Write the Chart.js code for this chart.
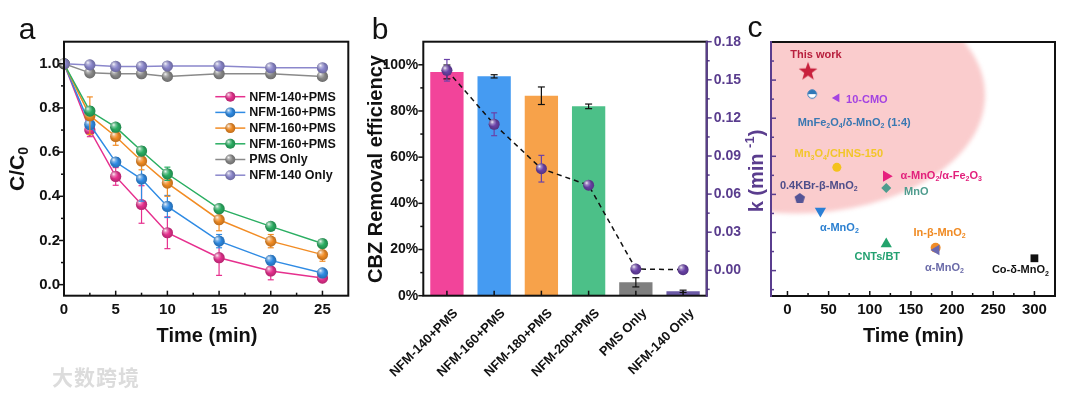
<!DOCTYPE html>
<html><head><meta charset="utf-8">
<script src="https://cdn.jsdelivr.net/npm/chart.js@4.4.1/dist/chart.umd.min.js"></script>
<style>
html,body{margin:0;padding:0;background:#fff;}
body{width:1080px;height:397px;position:relative;overflow:hidden;}
canvas{position:absolute;top:0;}
#wm{position:absolute;left:52px;top:361px;font:bold 21px "Noto Sans CJK SC";color:#dcdcdc;letter-spacing:1px}
</style></head><body>
<canvas id="ca" width="360" height="397" style="left:0"></canvas>
<canvas id="cb" width="410" height="397" style="left:360px"></canvas>
<canvas id="cc" width="340" height="397" style="left:740px"></canvas>
<div id="wm">大数跨境</div>
<script>
const FAM = '"Liberation Sans", Arial, Helvetica, sans-serif';
Chart.defaults.font.family = FAM;

// ---------------- Panel a data ----------------
const TIME_A = [0, 2.5, 5, 7.5, 10, 15, 20, 25];
const A_X_TICKS = [0, 5, 10, 15, 20, 25];
const A_X_MINOR = [2.5, 7.5, 12.5, 17.5, 22.5];
const A_Y_TICKS = [0, 0.2, 0.4, 0.6, 0.8, 1.0];
const A_Y_MINOR = [0.1, 0.3, 0.5, 0.7, 0.9];
const A_LABELS = ['NFM-140+PMS', 'NFM-160+PMS', 'NFM-160+PMS', 'NFM-160+PMS', 'PMS Only', 'NFM-140 Only'];
const NFM140_PMS  = [1.0, 0.700, 0.490, 0.363, 0.235, 0.122, 0.062, 0.030];
const NFM160_PMS  = [1.0, 0.725, 0.555, 0.478, 0.354, 0.197, 0.110, 0.053];
const NFM180_PMS  = [1.0, 0.765, 0.671, 0.560, 0.460, 0.294, 0.197, 0.136];
const NFM200_PMS  = [1.0, 0.786, 0.713, 0.605, 0.502, 0.344, 0.264, 0.186];
const PMS_ONLY    = [1.0, 0.959, 0.955, 0.955, 0.943, 0.955, 0.955, 0.943];
const NFM140_ONLY = [1.0, 0.995, 0.988, 0.988, 0.990, 0.990, 0.982, 0.982];
const ERR_140_PMS  = [0, 0.030, 0.040, 0.085, 0.072, 0.080, 0.040, 0.010];
const ERR_160_PMS  = [0, 0.020, 0.020, 0.100, 0.050, 0.030, 0.020, 0.010];
const ERR_180_PMS  = [0, 0.085, 0.040, 0.040, 0.060, 0.050, 0.030, 0.030];
const ERR_200_PMS  = [0, 0.020, 0.015, 0.020, 0.030, 0.015, 0.015, 0.015];
const ERR_PMS_ONLY = [0, 0.006, 0.006, 0.006, 0.006, 0.006, 0.006, 0.006];
const ERR_140_ONLY = [0, 0.005, 0.005, 0.005, 0.005, 0.005, 0.005, 0.005];
const A_SERIES = [NFM140_PMS, NFM160_PMS, NFM180_PMS, NFM200_PMS, PMS_ONLY, NFM140_ONLY];
const A_ERRORS = [ERR_140_PMS, ERR_160_PMS, ERR_180_PMS, ERR_200_PMS, ERR_PMS_ONLY, ERR_140_ONLY];
const A_COLORS = ['#e6308e', '#2f8be4', '#f28c24', '#2aae62', '#8a8a8a', '#8b87cc'];

// ---------------- Panel b data ----------------
const CAT_B = ['NFM-140+PMS', 'NFM-160+PMS', 'NFM-180+PMS', 'NFM-200+PMS', 'PMS Only', 'NFM-140 Only'];
const REMOVAL = [96.9, 95.0, 86.6, 82.0, 5.8, 1.9];
const REMOVAL_ERR = [3.0, 0.7, 3.8, 1.0, 2.0, 0.5];
const K_RATE = [0.1575, 0.115, 0.080, 0.067, 0.001, 0.0005];
const K_ERR = [0.0085, 0.009, 0.0105, 0.002, 0, 0];
const B_Y_TICKS = [0, 20, 40, 60, 80, 100];
const B_Y_MINOR = [10, 30, 50, 70, 90];
const K_TICKS = [0, 0.03, 0.06, 0.09, 0.12, 0.15, 0.18];
const K_MINOR = [-0.015, 0.015, 0.045, 0.075, 0.105, 0.135, 0.165];
const B_COLORS = ['#f2449a', '#459bf2', '#f7a24a', '#4cc088', '#7f7f7f', '#6b5aa6'];
const PURPLE = '#5a3d8e';

// ---------------- Panel c data ----------------
const C_LABELS = ['This work', 'MnFe_2O_4/δ-MnO_2 (1:4)', '10-CMO', 'Mn_3O_4/CHNS-150', 'α-MnO_2/α-Fe_2O_3', 'MnO',
                  '0.4KBr-β-MnO_2', 'α-MnO_2', 'CNTs/BT', 'In-β-MnO_2', 'α-MnO_2', 'Co-δ-MnO_2'];
const C_TIME = [25, 30, 60, 60, 120, 120, 15, 40, 120, 180, 181, 300];
const C_K    = [0.1575, 0.139, 0.136, 0.0813, 0.0743, 0.065, 0.0572, 0.047, 0.021, 0.018, 0.0162, 0.0097];
const C_X_TICKS = [0, 50, 100, 150, 200, 250, 300];
const C_X_MINOR = [25, 75, 125, 175, 225, 275];
const HIGHLIGHT_ZONE = {x: 9, y: 0.138, rx: 231, ry: 0.093};

// styles (panel c)
const C_COLORS = ['#c8203c', '#2f78b8', '#a443e2', '#f4c21c', '#e6207e', '#4e9c8e', '#545496', '#2a80d6', '#22a36c', '#f08c28', '#6a68b0', '#111111'];
const C_TEXT_COLORS = ['#b8203e', '#3a78b2', '#a443e2', '#f2c62a', '#e2207c', '#4e9c8e', '#4e4e8a', '#2a7fd0', '#22a070', '#f08a22', '#6a6aa8', '#111111'];
const C_LABEL_DX = [8, 42, 30, 2, 55, 30, 19, 19, -9, 4, 8, -14];
const C_LABEL_DY = [-16, 29, 2, -13, 0, 4, -12, 17, 13, -15, 18, 12];

function mkCanvas(w, h, draw) { const c = document.createElement('canvas'); c.width = w; c.height = h; draw(c.getContext('2d'), w, h); return c; }
const STAR = mkCanvas(22, 22, (g) => { g.fillStyle = '#c8203c'; g.beginPath();
  for (let k = 0; k < 10; k++) { const r = k % 2 ? 4 : 9.8; const a = -Math.PI / 2 + k * Math.PI / 5; g.lineTo(11 + r * Math.cos(a), 12 + r * Math.sin(a)); }
  g.closePath(); g.fill(); });
const HALF = mkCanvas(12, 12, (g) => { g.fillStyle = '#fff'; g.beginPath(); g.arc(6, 6, 4.3, 0, Math.PI * 2); g.fill();
  g.fillStyle = '#2f78b8'; g.beginPath(); g.arc(6, 6, 4.3, Math.PI, 0); g.closePath(); g.fill();
  g.strokeStyle = '#2f78b8'; g.lineWidth = 1; g.beginPath(); g.arc(6, 6, 4.3, 0, Math.PI * 2); g.stroke(); });
const PENT = mkCanvas(14, 14, (g) => { g.fillStyle = '#545496'; g.beginPath();
  for (let k = 0; k < 5; k++) { const a = -Math.PI / 2 + k * 2 * Math.PI / 5; g.lineTo(7 + 5.5 * Math.cos(a), 7.5 + 5.5 * Math.sin(a)); }
  g.closePath(); g.fill(); });
const C_STYLES = [STAR, HALF, 'triangle', 'circle', 'triangle', 'rectRot', PENT, 'triangle', 'triangle', 'circle', 'triangle', 'rect'];
const C_ROT    = [0, 0, -90, 0, 90, 0, 0, 180, 0, 0, -90, 0];
const C_RADIUS = [9, 5, 5, 4.5, 6.5, 5, 6, 6.5, 6.5, 5, 6, 5.5];

// ---------------- helpers ----------------
function richDraw(ctx, text, x, y, size, color, align, bold) {
  const runs = []; let cur = ''; let i = 0;
  while (i < text.length) {
    const ch = text[i];
    if (ch === '_' || ch === '^') {
      if (cur) { runs.push({t: cur, m: 0}); cur = ''; }
      let g;
      if (text[i + 1] === '{') { const j = text.indexOf('}', i + 2); g = text.slice(i + 2, j); i = j + 1; }
      else { g = text[i + 1]; i += 2; }
      runs.push({t: g, m: ch === '_' ? 1 : 2}); continue;
    }
    cur += ch; i++;
  }
  if (cur) runs.push({t: cur, m: 0});
  const fontFor = m => `${bold ? 'bold ' : ''}${m ? Math.round(size * 0.66) : size}px ${FAM}`;
  let total = 0;
  for (const r of runs) { ctx.font = fontFor(r.m); r.w = ctx.measureText(r.t).width; total += r.w; }
  let sx = align === 'center' ? x - total / 2 : align === 'right' ? x - total : x;
  ctx.save(); ctx.fillStyle = color; ctx.textBaseline = 'middle'; ctx.textAlign = 'left';
  for (const r of runs) { ctx.font = fontFor(r.m); const dy = r.m === 1 ? size * 0.3 : r.m === 2 ? -size * 0.35 : 0; ctx.fillText(r.t, sx, y + dy); sx += r.w; }
  ctx.restore();
}
function seg(ctx, x1, y1, x2, y2) { ctx.beginPath(); ctx.moveTo(x1, y1); ctx.lineTo(x2, y2); ctx.stroke(); }
function gloss(ctx, x, y, r) {
  ctx.save();
  let g = ctx.createRadialGradient(x, y, r * 0.3, x, y, r);
  g.addColorStop(0, 'rgba(0,0,0,0)'); g.addColorStop(1, 'rgba(0,0,0,0.22)');
  ctx.fillStyle = g; ctx.beginPath(); ctx.arc(x, y, r, 0, Math.PI * 2); ctx.fill();
  g = ctx.createRadialGradient(x - r * 0.35, y - r * 0.4, 0, x - r * 0.35, y - r * 0.4, r * 0.8);
  g.addColorStop(0, 'rgba(255,255,255,0.9)'); g.addColorStop(0.45, 'rgba(255,255,255,0.35)'); g.addColorStop(1, 'rgba(255,255,255,0)');
  ctx.fillStyle = g; ctx.beginPath(); ctx.arc(x, y, r, 0, Math.PI * 2); ctx.fill();
  ctx.restore();
}
function drawErr(chart, i) {
  const ds = chart.data.datasets[i]; const meta = chart.getDatasetMeta(i);
  const ys = chart.scales[meta.yAxisID]; const ctx = chart.ctx;
  ctx.save(); ctx.strokeStyle = ds.errorColor || ds.borderColor; ctx.lineWidth = 1.2;
  meta.data.forEach((el, j) => {
    const e = ds.errors[j]; if (!e) return;
    const d = ds.data[j]; const v = (typeof d === 'object') ? d.y : d;
    const x = el.x, yt = ys.getPixelForValue(v + e), yb = ys.getPixelForValue(v - e), cw = ds.capWidth || 3;
    seg(ctx, x, yt, x, yb); seg(ctx, x - cw, yt, x + cw, yt); seg(ctx, x - cw, yb, x + cw, yb);
  });
  ctx.restore();
}
const deco = {
  id: 'deco',
  beforeDatasetsDraw(chart, args, o) {
    if (!o.zone) return;
    const ctx = chart.ctx, ca = chart.chartArea, xs = chart.scales.x, ys = chart.scales.y, z = o.zone;
    const cx = xs.getPixelForValue(z.x), cy = ys.getPixelForValue(z.y);
    const rx = Math.abs(xs.getPixelForValue(z.x + z.rx) - cx), ry = Math.abs(ys.getPixelForValue(z.y + z.ry) - cy);
    ctx.save(); ctx.beginPath(); ctx.rect(ca.left, ca.top, ca.right - ca.left, ca.bottom - ca.top); ctx.clip();
    ctx.filter = 'blur(2px)'; ctx.fillStyle = o.zoneColor; ctx.beginPath(); ctx.ellipse(cx, cy, rx, ry, 0, 0, Math.PI * 2); ctx.fill();
    ctx.restore();
  },
  beforeDatasetDraw(chart, args) { const ds = chart.data.datasets[args.index]; if (ds.errors && !ds.errorOver) drawErr(chart, args.index); },
  afterDatasetDraw(chart, args) {
    const ds = chart.data.datasets[args.index];
    if (ds.errors && ds.errorOver) drawErr(chart, args.index);
    if (ds.gloss) { const meta = chart.getDatasetMeta(args.index); meta.data.forEach(el => gloss(chart.ctx, el.x, el.y, el.options.radius)); }
  },
  afterDraw(chart, args, o) {
    const ctx = chart.ctx, ca = chart.chartArea;
    ctx.save();
    (o.ticks || []).forEach(t => {
      const s = chart.scales[t.scale]; ctx.strokeStyle = t.color || '#111'; ctx.lineWidth = 1.5;
      const draw = (v, len) => { const p = s.getPixelForValue(v);
        if (t.edge === 'bottom') seg(ctx, p, ca.bottom, p, ca.bottom - len);
        else if (t.edge === 'left') seg(ctx, ca.left, p, ca.left + len * t.dir, p);
        else if (t.edge === 'right') seg(ctx, ca.right, p, ca.right + len, p); };
      t.major.forEach(v => draw(v, 5)); (t.minor || []).forEach(v => draw(v, 3));
    });
    ctx.strokeStyle = '#111'; ctx.lineWidth = 2;
    ctx.strokeRect(ca.left, ca.top, ca.right - ca.left, ca.bottom - ca.top);
    (o.colorEdges || []).forEach(e => { ctx.strokeStyle = e.color; ctx.lineWidth = 2; const x = e.edge === 'left' ? ca.left : ca.right; seg(ctx, x, ca.top - 1, x, ca.bottom + 1); });
    (o.texts || []).forEach(t => { ctx.save(); ctx.translate(t.x, t.y); if (t.rot) ctx.rotate(t.rot * Math.PI / 180);
      richDraw(ctx, t.text, 0, 0, t.size, t.color || '#111', 'center', t.bold !== false); ctx.restore(); });
    if (o.legend) {
      const L = o.legend;
      chart.data.datasets.forEach((ds, i) => {
        const y = ca.top + L.top + i * L.gap;
        ctx.strokeStyle = ds.borderColor; ctx.lineWidth = 1.5; seg(ctx, ca.right - L.lineL, y, ca.right - L.lineR, y);
        const mx = ca.right - (L.lineL + L.lineR) / 2;
        ctx.fillStyle = ds.borderColor; ctx.beginPath(); ctx.arc(mx, y, 5, 0, Math.PI * 2); ctx.fill(); gloss(ctx, mx, y, 5);
        richDraw(ctx, ds.label, ca.right - L.text, y + 0.5, 12.5, '#111', 'left', true);
      });
    }
    if (o.pointLabels) {
      const meta = chart.getDatasetMeta(0), P = o.pointLabels;
      P.texts.forEach((txt, i) => { const el = meta.data[i]; richDraw(ctx, txt, el.x + P.dx[i], el.y + P.dy[i], 11, P.colors[i], 'center', true); });
    }
    ctx.restore();
  }
};
const fixTicks = arr => s => { s.ticks = arr.map(v => ({value: v})); };
const tickFont = (size) => ({family: FAM, size: size, weight: 'bold'});

// ---------------- Chart a ----------------
new Chart(document.getElementById('ca'), {
  type: 'line',
  data: { datasets: A_SERIES.map((s, i) => ({
    label: A_LABELS[i], data: TIME_A.map((t, j) => ({x: t, y: s[j]})),
    borderColor: A_COLORS[i], backgroundColor: A_COLORS[i], pointBackgroundColor: A_COLORS[i],
    pointBorderWidth: 0, pointRadius: 5.6, borderWidth: 1.5, order: -i, gloss: true, errors: A_ERRORS[i]
  })) },
  options: {
    responsive: false, animation: false, events: [],
    layout: {padding: {left: 0, top: 41.7, right: 11.7, bottom: 0}},
    plugins: {legend: {display: false}, tooltip: {enabled: false},
      deco: {
        ticks: [{scale: 'x', edge: 'bottom', major: A_X_TICKS, minor: A_X_MINOR},
                {scale: 'y', edge: 'left', dir: -1, major: A_Y_TICKS, minor: A_Y_MINOR}],
        texts: [{text: 'Time (min)', x: 207, y: 336, size: 20},
                {text: 'C/C_0', x: 18, y: 169, rot: -90, size: 21},
                {text: 'a', x: 27, y: 31, size: 30, bold: false}],
        legend: {top: 55, gap: 15.7, lineL: 133, lineR: 103, text: 99}
      }},
    scales: {
      x: {type: 'linear', min: 0, max: 27.5, afterBuildTicks: fixTicks(A_X_TICKS), afterFit: s => { s.height = 101.3; },
          grid: {display: false, drawTicks: false}, border: {display: false},
          ticks: {font: tickFont(15), color: '#111', padding: 5, maxRotation: 0}},
      y: {min: -0.05, max: 1.1, afterBuildTicks: fixTicks(A_Y_TICKS), afterFit: s => { s.width = 64; },
          grid: {display: false, drawTicks: false}, border: {display: false},
          ticks: {font: tickFont(15), color: '#111', padding: 4, callback: v => v.toFixed(1)}}
    }
  },
  plugins: [deco]
});

// ---------------- Chart b ----------------
new Chart(document.getElementById('cb'), {
  type: 'bar',
  data: { labels: CAT_B, datasets: [
    {type: 'line', label: 'k', data: K_RATE, yAxisID: 'y1', order: 0, borderColor: '#111', borderWidth: 1.5, borderDash: [5, 4],
     pointRadius: 5.5, pointBackgroundColor: '#6a42a8', pointBorderWidth: 0, gloss: true, errors: K_ERR, errorColor: '#6a42a8'},
    {type: 'bar', label: 'Removal', data: REMOVAL, yAxisID: 'y', order: 1, backgroundColor: B_COLORS,
     barPercentage: 0.705, categoryPercentage: 1, errors: REMOVAL_ERR, errorColor: '#111', errorOver: true, capWidth: 3.5}
  ]},
  options: {
    responsive: false, animation: false, events: [],
    layout: {padding: {left: 0, top: 41.7, right: 0, bottom: 0}},
    plugins: {legend: {display: false}, tooltip: {enabled: false},
      deco: {
        ticks: [{scale: 'x', edge: 'bottom', major: [0, 1, 2, 3, 4, 5]},
                {scale: 'y', edge: 'left', dir: -1, major: B_Y_TICKS, minor: B_Y_MINOR},
                {scale: 'y1', edge: 'right', major: K_TICKS, minor: K_MINOR, color: PURPLE}],
        colorEdges: [{edge: 'right', color: PURPLE}],
        texts: [{text: 'CBZ Removal efficiency', x: 16.7, y: 169, rot: -90, size: 20},
                {text: 'k (min ^{-1})', x: 397, y: 171, rot: -90, size: 20, color: PURPLE},
                {text: 'b', x: 20, y: 31, size: 30, bold: false}]
      }},
    scales: {
      x: {afterFit: s => { s.height = 101.3; }, grid: {display: false, drawTicks: false}, border: {display: false},
          ticks: {font: tickFont(13), color: '#111', padding: 10, minRotation: 45, maxRotation: 45, labelOffset: 9}},
      y: {position: 'left', min: 0, max: 110, afterBuildTicks: fixTicks(B_Y_TICKS), afterFit: s => { s.width = 63.3; },
          grid: {display: false, drawTicks: false}, border: {display: false},
          ticks: {font: tickFont(14), color: '#111', padding: 5, callback: v => v + '%'}},
      y1: {position: 'right', min: -0.02, max: 0.18, afterBuildTicks: fixTicks(K_TICKS), afterFit: s => { s.width = 63.3; },
          grid: {display: false, drawTicks: false}, border: {display: false},
          ticks: {font: tickFont(14), color: PURPLE, padding: 7, callback: v => v.toFixed(2)}}
    }
  },
  plugins: [deco]
});

// ---------------- Chart c ----------------
new Chart(document.getElementById('cc'), {
  type: 'scatter',
  data: { datasets: [{
    label: 'k vs time', data: C_TIME.map((t, i) => ({x: t, y: C_K[i]})),
    pointStyle: C_STYLES, rotation: C_ROT, pointRadius: C_RADIUS, backgroundColor: C_COLORS, pointBackgroundColor: C_COLORS,
    borderColor: C_COLORS, pointBorderWidth: 0, showLine: false
  }]},
  options: {
    responsive: false, animation: false, events: [],
    layout: {padding: {left: 0, top: 42, right: 25, bottom: 0}},
    plugins: {legend: {display: false}, tooltip: {enabled: false},
      deco: {
        zone: HIGHLIGHT_ZONE, zoneColor: 'rgba(248,184,186,0.72)',
        ticks: [{scale: 'x', edge: 'bottom', major: C_X_TICKS, minor: C_X_MINOR},
                {scale: 'y', edge: 'left', dir: 1, major: K_TICKS, minor: K_MINOR, color: PURPLE}],
        colorEdges: [{edge: 'left', color: PURPLE}],
        texts: [{text: 'Time (min)', x: 173.3, y: 336, size: 20},
                {text: 'c', x: 15, y: 29, size: 30, bold: false}],
        pointLabels: {texts: C_LABELS, dx: C_LABEL_DX, dy: C_LABEL_DY, colors: C_TEXT_COLORS}
      }},
    scales: {
      x: {type: 'linear', min: -20, max: 325, afterBuildTicks: fixTicks(C_X_TICKS), afterFit: s => { s.height = 101; },
          grid: {display: false, drawTicks: false}, border: {display: false},
          ticks: {font: tickFont(15), color: '#111', padding: 5, maxRotation: 0}},
      y: {min: -0.02, max: 0.18, afterFit: s => { s.width = 31; },
          grid: {display: false, drawTicks: false}, border: {display: false}, ticks: {display: false}}
    }
  },
  plugins: [deco]
});
</script></body></html>
